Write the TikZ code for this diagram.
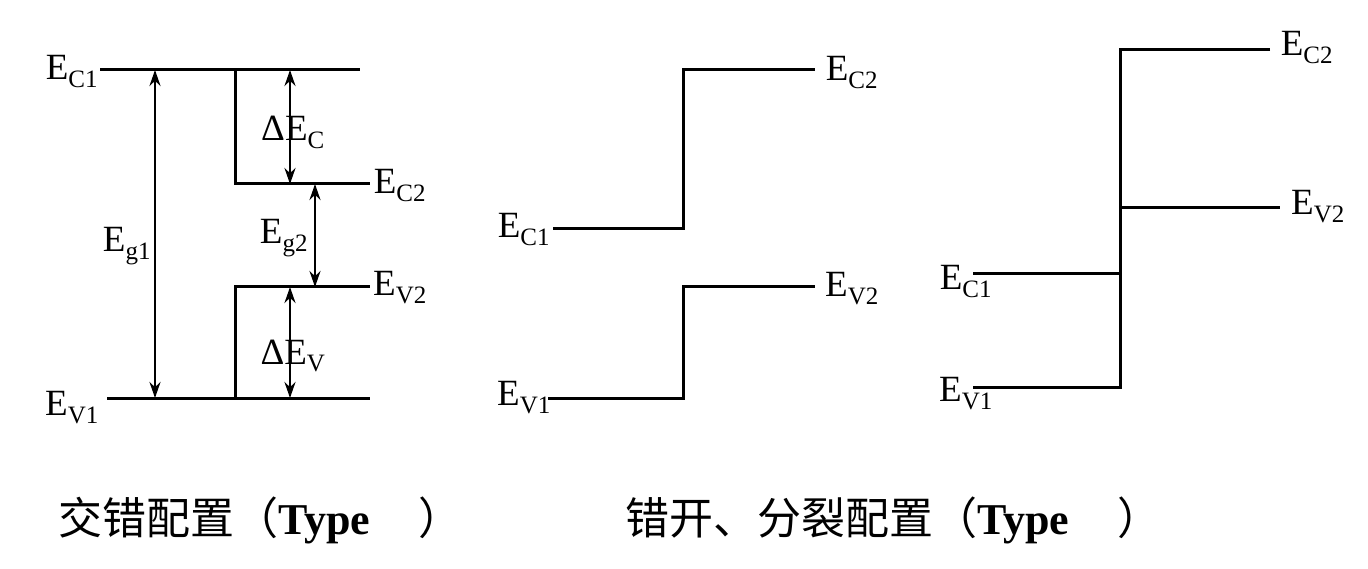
\documentclass[tikz,border=0pt]{standalone}
\usepackage{fontspec}
\setmainfont{Liberation Serif}
\newfontfamily\cjk{Noto Sans CJK SC}
\usetikzlibrary{arrows.meta}
\newcommand{\lbl}[2]{\fontsize{37}{37}\selectfont E$_{\hbox{\fontsize{25}{25}\selectfont #1}}$}
\newcommand{\dlbl}[2]{\fontsize{37}{37}\selectfont ΔE$_{\hbox{\fontsize{25}{25}\selectfont #1}}$}
\begin{document}
\begin{tikzpicture}[x=1pt,y=-1pt,
  lvl/.style={line width=3pt},
  dim/.style={line width=2.5pt,{Stealth[length=16pt,width=11pt]}-{Stealth[length=16pt,width=11pt]}},
  txt/.style={inner sep=0pt},
  captxt/.style={inner sep=0pt,anchor=west,font=\fontsize{44}{44}\selectfont}]
\useasboundingbox (0,0) rectangle (1368,569);
% Type I
\coordinate (a1) at (100,70); \coordinate (a2) at (360,70);
\coordinate (b1) at (107,398); \coordinate (b2) at (370,398);
\coordinate (c0) at (235,70); \coordinate (c1) at (235,184); \coordinate (c2) at (370,184);
\coordinate (d0) at (235,398); \coordinate (d1) at (235,287); \coordinate (d2) at (370,287);
\draw[lvl] (a1) -- (a2);
\draw[lvl] (b1) -- (b2);
\draw[lvl] (c0) -- (c1) -- (c2);
\draw[lvl] (d0) -- (d1) -- (d2);
\coordinate (g1t) at (155,70); \coordinate (g1b) at (155,398);
\coordinate (ect) at (290,70); \coordinate (ecb) at (290,184);
\coordinate (g2t) at (315,184); \coordinate (g2b) at (315,287);
\coordinate (evt) at (290,287); \coordinate (evb) at (290,398);
\draw[dim] (g1t) -- (g1b);
\draw[dim] (ect) -- (ecb);
\draw[dim] (g2t) -- (g2b);
\draw[dim] (evt) -- (evb);
\node[txt] (lEC1) at (72,72) {\lbl{C1}{}};
\node[txt] (lEV1) at (72,408) {\lbl{V1}{}};
\node[txt] (lEC2) at (400,186) {\lbl{C2}{}};
\node[txt] (lEV2) at (400,288) {\lbl{V2}{}};
\node[txt] (lEg1) at (127,246) {\lbl{g1}{}};
\node[txt] (lEg2) at (284,238) {\lbl{g2}{}};
\node[txt] (ldC) at (293,132) {\dlbl{C}{}};
\node[txt] (ldV) at (293,356) {\dlbl{V}{}};
% Type II middle
\coordinate (m1) at (553,229); \coordinate (m2) at (683,229); \coordinate (m3) at (683,70); \coordinate (m4) at (815,70);
\coordinate (n1) at (548,398); \coordinate (n2) at (683,398); \coordinate (n3) at (683,287); \coordinate (n4) at (815,287);
\draw[lvl] (m1) -- (m2) -- (m3) -- (m4);
\draw[lvl] (n1) -- (n2) -- (n3) -- (n4);
\node[txt] (mEC2) at (852,73) {\lbl{C2}{}};
\node[txt] (mEC1) at (524,230) {\lbl{C1}{}};
\node[txt] (mEV2) at (852,289) {\lbl{V2}{}};
\node[txt] (mEV1) at (524,398) {\lbl{V1}{}};
% Type II right
\coordinate (rt) at (1120,50); \coordinate (rb) at (1120,387);
\coordinate (r1) at (1270,50); \coordinate (r2m) at (1120,208); \coordinate (r2) at (1280,208);
\coordinate (r3m) at (1120,274); \coordinate (r3) at (973,274);
\coordinate (r4) at (973,387);
\draw[lvl] (r1) -- (rt) -- (rb) -- (r4);
\draw[lvl] (r2m) -- (r2);
\draw[lvl] (r3m) -- (r3);
\node[txt] (rEC2) at (1307,48) {\lbl{C2}{}};
\node[txt] (rEV2) at (1318,207) {\lbl{V2}{}};
\node[txt] (rEC1) at (966,282) {\lbl{C1}{}};
\node[txt] (rEV1) at (966,394) {\lbl{V1}{}};
% captions
\node[captxt] (cap1) at (58,520) {{\cjk 交错配置（}\textbf{Type}\hspace{14pt}Ⅰ{\cjk ）}};
\node[captxt] (cap2) at (625,520) {{\cjk 错开、分裂配置（}\textbf{Type}\hspace{14pt}Ⅱ{\cjk ）}};
\end{tikzpicture}
\end{document}
